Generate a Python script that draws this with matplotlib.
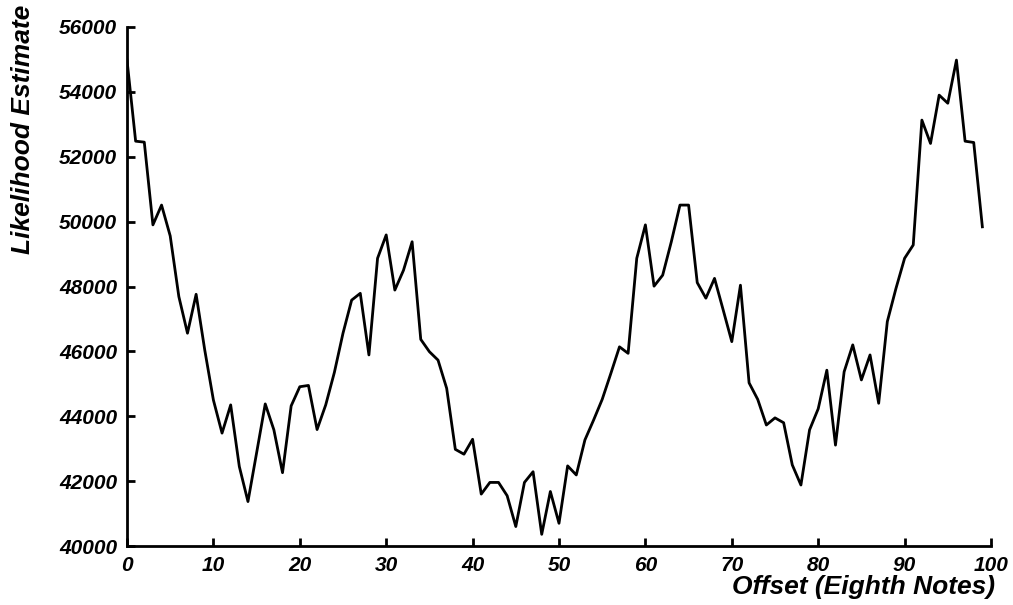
import numpy as np
import matplotlib
matplotlib.use("Agg")
import matplotlib.pyplot as plt

# Likelihood estimate per offset (eighth notes)
offsets = list(range(100))
likelihood = [
    54980, 52480, 52450, 49900, 50510, 49560, 47690, 46560, 47760, 46040,
    44500, 43480, 44350, 42450, 41370, 42870, 44380, 43580, 42260, 44320,
    44910, 44950, 43590, 44350, 45350, 46560, 47580, 47790, 45890, 48870,
    49590, 47890, 48500, 49380, 46370, 45990, 45730, 44860, 42980, 42830,
    43290, 41600, 41960, 41960, 41550, 40600, 41960, 42290, 40360, 41680,
    40700, 42470, 42190, 43270, 43880, 44520, 45320, 46140, 45940, 48870,
    49900, 48010, 48350, 49380, 50510, 50510, 48120, 47640, 48250, 47280,
    46300, 48040, 45030, 44520, 43730, 43950, 43800, 42500, 41880, 43580,
    44230, 45420, 43110, 45370, 46200, 45120, 45890, 44400, 46920, 47940,
    48870, 49280, 53130, 52410, 53900, 53650, 54980, 52480, 52440, 49840,
]

xticks = [0, 10, 20, 30, 40, 50, 60, 70, 80, 90, 100]
yticks = [40000, 42000, 44000, 46000, 48000, 50000, 52000, 54000, 56000]

plt.rcParams['font.family'] = ['Liberation Sans', 'DejaVu Sans']

fig = plt.figure(figsize=(10.13, 6.05), dpi=100)
ax = fig.add_axes([127 / 1013, 1 - 546 / 605, (991 - 127) / 1013, (546 - 27) / 605])

ax.plot(offsets, likelihood, color='black', linewidth=2.0)

ax.set_xlim(0, 100)
ax.set_ylim(40000, 56000)
ax.set_xticks(xticks)
ax.set_yticks(yticks)

for side in ['top', 'right']:
    ax.spines[side].set_visible(False)
for side in ['left', 'bottom']:
    ax.spines[side].set_linewidth(2.0)

ax.tick_params(direction='in', length=6, width=2.0, labelsize=15, pad=7)
for lab in ax.get_xticklabels() + ax.get_yticklabels():
    lab.set_fontweight('bold')
    lab.set_fontstyle('italic')

fig.text(23 / 1013, 1 - 5 / 605, "Likelihood Estimate", rotation=90,
         ha='center', va='top', fontsize=19, fontweight='bold', fontstyle='italic')
fig.text(995 / 1013, 1 - 599 / 605, "Offset (Eighth Notes)",
         ha='right', va='bottom', fontsize=19, fontweight='bold', fontstyle='italic')

fig.savefig("out.png", dpi=100)
